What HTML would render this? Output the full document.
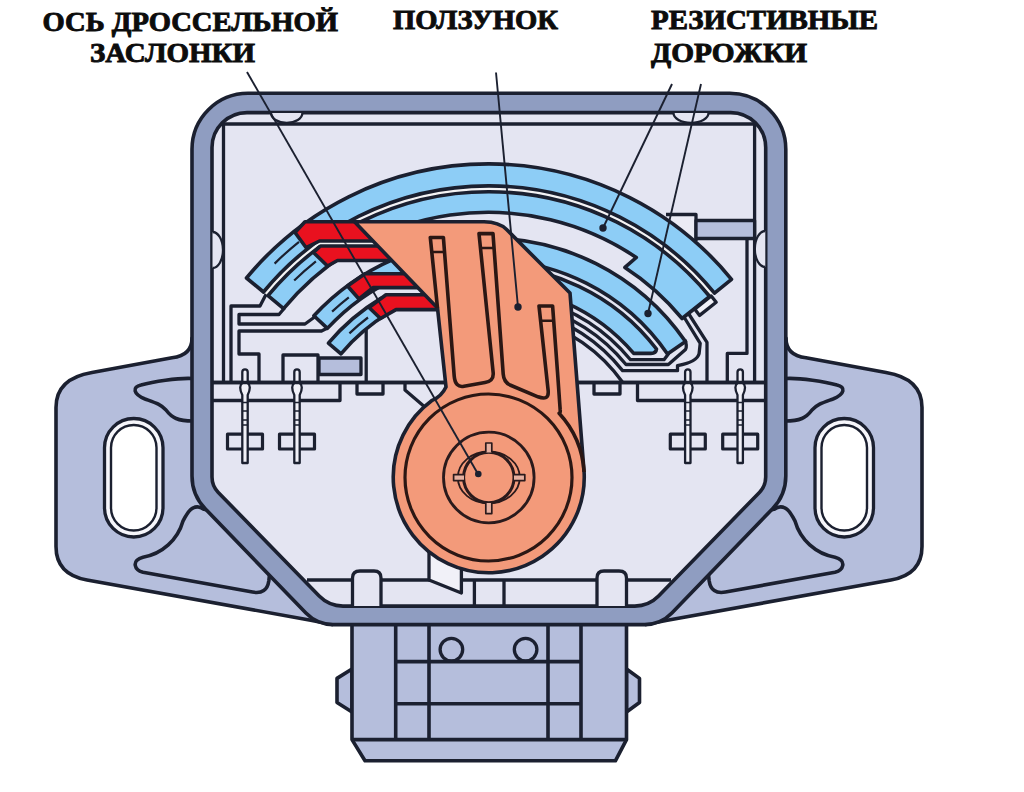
<!DOCTYPE html>
<html><head><meta charset="utf-8"><title>Throttle position sensor</title>
<style>html,body{margin:0;padding:0;background:#fff;}body{width:1024px;height:792px;overflow:hidden;font-family:"Liberation Serif",serif;}svg{display:block;}</style>
</head><body>
<svg width="1024" height="792" viewBox="0 0 1024 792">
<rect width="1024" height="792" fill="#ffffff"/>
<g stroke="#1b2030" stroke-width="3.6" stroke-linejoin="round" stroke-linecap="butt" fill="none">
<g id="ear"><path fill="#b5bedc" d="M205,330 L192,338 Q192,355.5 172,357.8 L92,372.5 Q56,378.5 56,407.5 L56,546.5 Q56,574.5 87,580 L312,620.4 L332,624.6 L332,590 Z"/><path d="M193,378.5 C178,377.5 152,382 141,385 C132,387 133,394 145,399 C156,403 160,404 166,410 C172,418 178,421 193,421"/><path d="M208,510 L203.8,509.3 C200,506.5 196,506.5 193,508 C188,510 186,516 183,521 A50.5,50.5 0 0 1 143,557.2 C138,558.5 134.5,561.5 135.3,565.5 C136,569.5 139,571.2 143,572.3 L252.5,592 C262,593.8 267.5,590 268.8,581 L269.5,575 L280,575 Z"/><rect x="104.5" y="418.5" width="58.5" height="118.5" rx="29.25" fill="#f6f6fb" stroke-width="3.3"/><rect x="111" y="425" width="45.5" height="105.5" rx="22.75" fill="#ffffff" stroke-width="2.4"/></g>
<use href="#ear" transform="translate(978.0,0) scale(-1,1)"/>
<path fill="#b5bedc" d="M352,669 L337,678.4 L337,702.5 L352,712 Z"/>
<path fill="#b5bedc" d="M626.5,669 L639.5,678.4 L639.5,702.5 L626.5,712 Z"/>
<path fill="#b5bedc" d="M352,620 L352,739.6 L365,760.8 L615.4,760.8 L626.5,739.6 L626.5,620 Z"/>
<path d="M352,739.6 L626.5,739.6 M395.7,624 L395.7,739.6 M429,624 L429,739.6 M548,624 L548,739.6 M581,624 L581,739.6 M395.7,661.6 L581,661.6 M395.7,703.7 L581,703.7"/>
<circle cx="451.4" cy="649.6" r="11.3" stroke-width="3.3"/><circle cx="525.6" cy="649.6" r="11.3" stroke-width="3.3"/>
<path fill="#8f9dc1" d="M785.8,149.3 L785.8,476.0 Q785.8,495.0 772.6,508.7 L671.9,613.1 Q660.8,624.6 644.8,624.6 L333.0,624.6 Q317.0,624.6 305.9,613.1 L205.2,508.7 Q192.0,495.0 192.0,476.0 L192.0,149.3 A56 56 0 0 1 248.0,93.3 L729.8,93.3 A56 56 0 0 1 785.8,149.3 Z"/>
<path fill="#e4e5f2" d="M765.7,147.6 L765.7,477.0 Q765.7,486.0 759.4,492.4 L658.6,596.1 Q648.8,606.1 634.8,606.1 L343.0,606.1 Q329.0,606.1 319.2,596.1 L218.3,492.4 Q212.0,486.0 212.0,477.0 L212.0,147.6 A35 35 0 0 1 247.0,112.6 L730.7,112.6 A35 35 0 0 1 765.7,147.6 Z"/>
<path stroke-width="3.3" d="M222,124 L756,124 M223.5,124 L223.5,382.5 M754.6,124 L754.6,382.5"/>
<path stroke-width="2.3" fill="#e4e5f2" d="M271,113 A15.7 9.8 0 0 0 302.4,113 M673.5,113 A17.5 9.8 0 0 0 708.5,113 M212.5,232 A10.5 18 0 0 1 212.5,268 M765.3,231 A10.5 18 0 0 0 765.3,267"/>
<path stroke-width="3.3" d="M307,580 L671,580"/>
<path stroke-width="3.3" fill="#e4e5f2" d="M352.5,606 L352.5,578 Q352.5,571 360,571 L374,571 Q381,571 381,578 L381,606"/>
<path stroke-width="3.3" fill="#e4e5f2" d="M597,606 L597,578 Q597,571 604,571 L619,571 Q626.5,571 626.5,578 L626.5,606"/>
<path stroke-width="3.3" d="M474.4,580 L474.4,606 M504,580 L504,606"/>
<path stroke-width="3.3" fill="#f1f1f8" d="M429,545 L429,580 L461.4,593 L461.4,560 Z"/>
<path stroke-width="3.3" d="M212,382.5 L765.7,382.5 M212,400.5 L340,400.5 L340,382.5 M765.7,400.5 L637.5,400.5 L637.5,382.5"/>
<path stroke-width="3.3" d="M357,382.5 L357,394 L383,394 L383,382.5 M594,382.5 L594,394 L620,394 L620,382.5"/>
<path stroke-width="3.3" d="M405,382.5 L405,390 L426,408"/>
<path stroke-width="3.3" d="M267,292.5 L260,306 L231,306 L231,382.5"/>
<path stroke-width="3.3" d="M284.5,308 L279,314.5 L239,314.5 L239,324 L305,324 L316,316"/>
<path stroke-width="3.3" d="M327.5,328 L321.5,331 L239,331 L239,354 L259,354 L259,382.5"/>
<path stroke-width="3.3" d="M283,382.5 L283,355 L318,355 L318,382.5"/>
<rect x="319" y="358" width="42" height="16.5" fill="#b5bedc" stroke-width="3.3"/>
<path stroke-width="3.3" d="M366.2,330 L366.2,382.5"/>
<path stroke-width="3.3" fill="#ebebf5" d="M666,214.5 L696,214.5 L696,241"/>
<rect x="696" y="220.5" width="58.6" height="18" fill="#b5bedc" stroke-width="3.3"/>
<path stroke-width="3.3" d="M747,239 L747,353.4 L727.3,353.4 L727.3,382.5"/>
<path stroke-width="3.3" d="M688.5,313.5 L707,342.3 L707,382.5"/>
<path fill="#f4f3f4" stroke="none" d="M262.4,291.1 A293 293 0 0 1 715.2,291.9 L708.3,297.6 A284 284 0 0 0 269.4,296.9 Z"/>
<path fill="#8dcdf6" d="M246.5,278.0 A313.6 313.6 0 0 1 731.5,279.3 L714.5,293.2 A291.6 291.6 0 0 0 263.5,292.0 Z"/>
<path fill="#8dcdf6" d="M268.0,295.7 A285.8 285.8 0 0 1 709.7,296.5 L682.1,318.5 A250.5 250.5 0 0 0 624.9,267.4 L636.3,257.5 A265.5 265.5 0 0 0 283.6,308.6 Z"/>
<path fill="#f1f1f8" stroke-width="3.3" d="M711.2,296 L716.2,302.3 L699.6,315.4 L694.7,309.1 Z"/>
<path stroke-width="3.3" d="M536.3,299.3 A184.5 184.5 0 0 1 630.5,359.7 L664,359.7 L668.75,353.4"/>
<path stroke-width="3.3" d="M534.6,305.6 A178 178 0 0 1 626.0,364.5 L668.4,364.5 L685.5,349.5 Q687.5,346 684.9,340"/>
<path stroke-width="3.3" d="M532.9,311.8 A171.5 171.5 0 0 1 622.6,370.6 L677.5,370.7 L677.5,365.6 Q697,362 699.1,353.6 L700.2,343.4 L684,317"/>
<path stroke-width="3.3" d="M531.1,318.6 A164.5 164.5 0 0 1 622.8,382.5"/>
<path fill="#8dcdf6" d="M313.9,315.8 A238 238 0 0 1 488.5,239.5 L488.5,258.0 A219.5 219.5 0 0 0 327.4,328.4 Z"/>
<path fill="#8dcdf6" d="M480.1,238.3 A239.3 239.3 0 0 1 685.5,341.6 L667.5,354.0 A217.5 217.5 0 0 0 480.9,260.1 Z"/>
<path fill="#8dcdf6" d="M328.4,343.2 A209 209 0 0 1 380.9,298.4 L389.4,312.5 A192.5 192.5 0 0 0 341.0,353.8 Z"/>
<path fill="#8dcdf6" d="M481.1,266.1 A211.5 211.5 0 0 1 656.5,349.0 Q656,353.4 651,353.4 L633.7,353.4 A191 191 0 0 0 481.8,286.6 Z"/>
<path stroke-width="2.2" d="M274.6,263.6 A302.5 302.5 0 0 1 299.0,241.8 M294.2,280.5 A276.7 276.7 0 0 1 315.9,261.3 M332.1,311.6 A228 228 0 0 1 348.8,297.3 M349.4,333.4 A200.3 200.3 0 0 1 368.0,317.5"/>
<path stroke="none" fill="#f4f3f4" d="M316,239 L380,239 L380,248 L320,248 Z"/>
<path fill="#e9111f" d="M295,232.5 L305,221.8 L380,221.8 L380,241 L319.5,241 L306,247.5 Z"/>
<path fill="#e9111f" d="M313.5,252.5 L320.5,246 L390,246 L390,260.5 L337.5,260.5 L327.5,266 Z"/>
<path fill="#e9111f" d="M347.5,286 L365,273.8 L420,273.8 L420,287.6 L373,287.6 L359,299 Z"/>
<path fill="#e9111f" d="M369,307.5 L386,294.8 L440,294.8 L440,309.6 L396,309.6 L380.5,318.5 Z"/>
<rect x="227.5" y="434.2" width="35" height="14.8" fill="#e4e5f2" stroke-width="3.2"/><path stroke-width="2.3" fill="#f1f1f8" d="M242.3,383 L242.3,372 A2.7 2.7 0 0 1 247.7,372 L247.7,383 Q249.8,384.5 249.8,387.5 Q249.8,391 247.7,395 L247.7,463 L242.3,463 L242.3,395 Q240.2,391 240.2,387.5 Q240.2,384.5 242.3,383 Z"/><path stroke-width="1.5" d="M242.3,402.5 L247.7,402.5 M242.3,411 L247.7,411 M242.3,420 L247.7,420 M242.3,425 L247.7,425"/>
<rect x="279.5" y="434.2" width="35" height="14.8" fill="#e4e5f2" stroke-width="3.2"/><path stroke-width="2.3" fill="#f1f1f8" d="M294.3,383 L294.3,372 A2.7 2.7 0 0 1 299.7,372 L299.7,383 Q301.8,384.5 301.8,387.5 Q301.8,391 299.7,395 L299.7,463 L294.3,463 L294.3,395 Q292.2,391 292.2,387.5 Q292.2,384.5 294.3,383 Z"/><path stroke-width="1.5" d="M294.3,402.5 L299.7,402.5 M294.3,411 L299.7,411 M294.3,420 L299.7,420 M294.3,425 L299.7,425"/>
<rect x="670.3" y="434.2" width="35" height="14.8" fill="#e4e5f2" stroke-width="3.2"/><path stroke-width="2.3" fill="#f1f1f8" d="M685.1,383 L685.1,372 A2.7 2.7 0 0 1 690.5,372 L690.5,383 Q692.6,384.5 692.6,387.5 Q692.6,391 690.5,395 L690.5,463 L685.1,463 L685.1,395 Q683.0,391 683.0,387.5 Q683.0,384.5 685.1,383 Z"/><path stroke-width="1.5" d="M685.1,402.5 L690.5,402.5 M685.1,411 L690.5,411 M685.1,420 L690.5,420 M685.1,425 L690.5,425"/>
<rect x="722.7" y="434.2" width="35" height="14.8" fill="#e4e5f2" stroke-width="3.2"/><path stroke-width="2.3" fill="#f1f1f8" d="M737.5,383 L737.5,372 A2.7 2.7 0 0 1 742.9,372 L742.9,383 Q745.0,384.5 745.0,387.5 Q745.0,391 742.9,395 L742.9,463 L737.5,463 L737.5,395 Q735.4,391 735.4,387.5 Q735.4,384.5 737.5,383 Z"/><path stroke-width="1.5" d="M737.5,402.5 L742.9,402.5 M737.5,411 L742.9,411 M737.5,420 L742.9,420 M737.5,425 L742.9,425"/>
<path stroke-width="3.3" d="M212,382.5 L765.7,382.5"/>
<path fill="#f39a7a" stroke-width="3.6" d="M354.5,221.8 L484,221.8 Q499,222 506.6,229.5 L570,293 L584.1,472 A95.5 95.5 0 1 1 432.2,400.3 Q441.5,396.5 446,387 L437.5,308 Z"/>
<circle cx="488.5" cy="477.5" r="83.5" stroke="#2b1714" stroke-width="3.2"/>
<circle cx="488.8" cy="477.5" r="45.3" stroke-width="2.8" stroke="#2a1a1c"/>
<ellipse cx="488.8" cy="477.5" rx="31" ry="26" stroke-width="1.8" stroke="#2a1a1c"/>
<circle cx="488.8" cy="477.5" r="25.2" stroke-width="3" stroke="#2a1a1c" fill="#f39a7a"/>
<path stroke-width="1.7" stroke="#2a1a1c" fill="#e6b0a0" d="M485.8,452.5 L485.8,443 L491.8,443 L491.8,452.5 M485.8,503 L485.8,513.6 L491.8,513.6 L491.8,503 M464,474.6 L453.6,474.6 L453.6,480.6 L464,480.6 M514,474.6 L524.8,474.6 L524.8,480.6 L514,480.6"/>
<path stroke="#2b1714" stroke-width="3.6" d="M437.5,308 L430.3,237.5 L443.4,237.5 L454.2,376 Q455.2,388 464,386.2 L485,382.6 Q493.8,381 493.2,373 L479,233.6 L493,233.6 L503.2,374 Q503.8,382 510,385 L538,396.8 Q549,401 548.2,391 L539,306 L552.6,306 L557.5,372 L560.2,410 Q560.5,413 559.1,413.2 A95.5 95.5 0 0 1 584.1,472"/>
<path stroke="#2b1714" stroke-width="2.6" d="M431.5,252 L444.5,252 M480,248 L494,248 M540.5,320.7 L554,320.7"/>
</g>
<g stroke="#1b2030" stroke-width="1.9" fill="#1b2030">
<path d="M247,72 L478,474"/><circle cx="478.3" cy="474" r="3.3" stroke="none"/>
<path d="M496,72.5 L518,307"/><circle cx="518" cy="307" r="3.7" stroke="none"/>
<path d="M672,84 L603,228"/><circle cx="603" cy="228" r="3.7" stroke="none"/>
<path d="M701,84 L648,313.5"/><circle cx="648" cy="313.5" r="3.7" stroke="none"/>
</g>
<g font-family="Liberation Serif, serif" font-weight="bold" font-size="27.2px" fill="#0c0c0c" stroke="#0c0c0c" stroke-width="0.9">
<text x="42.5" y="30.8" textLength="295.5" lengthAdjust="spacingAndGlyphs">ОСЬ ДРОССЕЛЬНОЙ</text>
<text x="90.0" y="62.0" textLength="165.0" lengthAdjust="spacingAndGlyphs">ЗАСЛОНКИ</text>
<text x="393.0" y="29.2" textLength="165.0" lengthAdjust="spacingAndGlyphs">ПОЛЗУНОК</text>
<text x="651.0" y="29.2" textLength="227.0" lengthAdjust="spacingAndGlyphs">РЕЗИСТИВНЫЕ</text>
<text x="651.0" y="62.0" textLength="156.0" lengthAdjust="spacingAndGlyphs">ДОРОЖКИ</text>
</g>
</svg>
</body></html>
